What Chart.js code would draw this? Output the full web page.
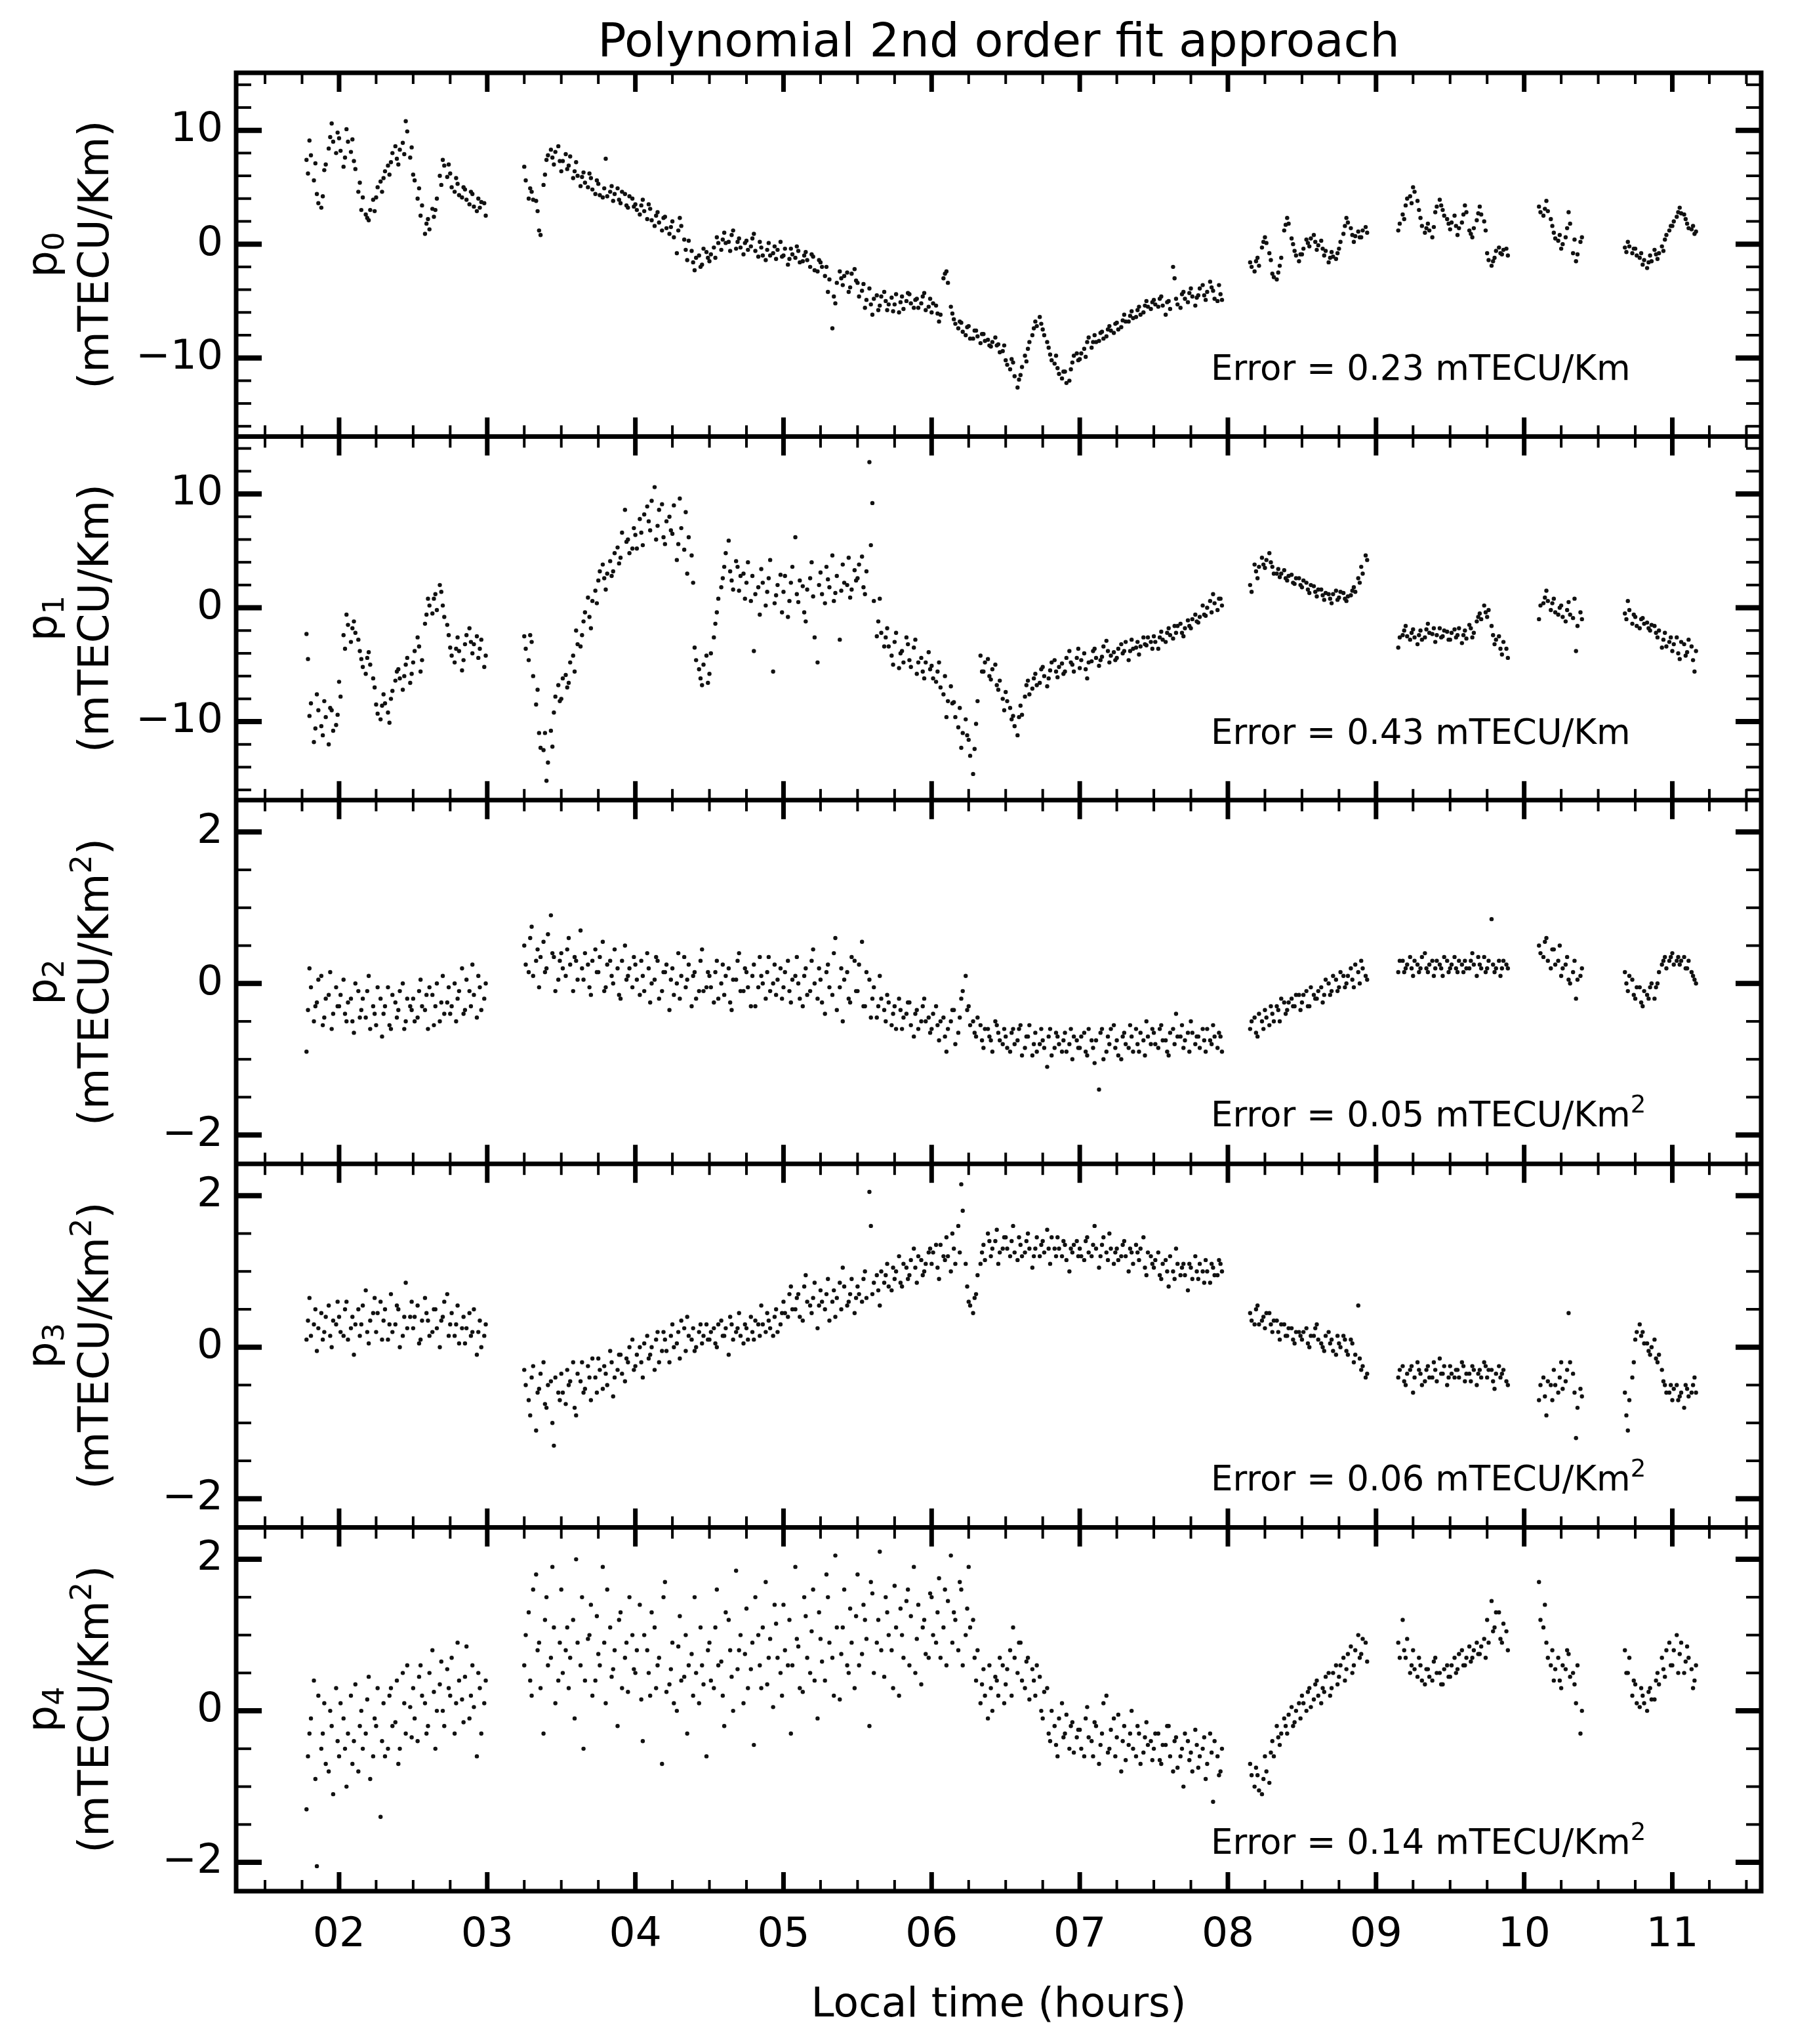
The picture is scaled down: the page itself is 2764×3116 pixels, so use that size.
<!DOCTYPE html>
<html>
<head>
<meta charset="utf-8">
<script src="https://cdn.jsdelivr.net/npm/chart.js@4.4.1/dist/chart.umd.min.js"></script>
<style>
  html, body { margin: 0; padding: 0; background: #fff; }
  #chart { display: block; width: 2764px; height: 3116px; }
</style>
</head>
<body>
<canvas id="chart" width="2764" height="3116"></canvas>
<script>
// local time of each epoch (hours): first pass, then second pass
const times = [
  1.78,1.80,1.83,1.85,1.88,1.90,1.93,1.95,1.98,
  2.00,2.03,2.05,2.08,2.10,2.13,2.15,2.18,2.20,2.23,2.25,2.28,2.30,2.33,2.35,2.38,2.40,2.43,2.45,2.48,
  2.50,2.53,2.55,2.58,2.60,2.63,2.65,2.68,2.70,2.73,2.75,2.78,2.80,2.83,2.85,2.88,2.90,2.93,2.95,2.98,
  3.25,3.28,3.30,3.33,3.35,3.38,3.40,3.43,3.45,3.48,
  3.50,3.53,3.55,3.58,3.60,3.63,3.65,3.68,3.70,3.73,3.75,3.78,3.80,3.83,3.85,3.88,3.90,3.93,3.95,3.98,
  4.00,4.03,4.05,4.08,4.10,4.13,4.15,4.18,4.20,4.23,4.25,4.28,4.30,4.33,4.35,4.38,4.40,4.43,4.45,4.48,
  4.50,4.53,4.55,4.58,4.60,4.63,4.65,4.68,4.70,4.73,4.75,4.78,4.80,4.83,4.85,4.88,4.90,4.93,4.95,4.98,
  5.00,5.03,5.05,5.08,5.10,5.13,5.15,5.18,5.20,5.23,5.25,5.28,5.30,5.33,5.35,5.38,5.40,5.43,5.45,5.48,
  5.50,5.53,5.55,5.58,5.60,5.63,5.65,5.68,5.70,5.73,5.75,5.78,5.80,5.83,5.85,5.88,5.90,5.93,5.95,5.98,
  6.00,6.03,6.05,6.08,6.10,6.13,6.15,6.18,6.20,6.23,6.25,6.28,6.30,6.33,6.35,6.38,6.40,6.43,6.45,6.48,
  6.50,6.53,6.55,6.58,6.60,6.63,6.65,6.68,6.70,6.73,6.75,6.78,6.80,6.83,6.85,6.88,6.90,6.93,6.95,6.98,
  7.00,7.03,7.05,7.08,7.10,7.13,7.15,7.18,7.20,7.23,7.25,7.28,7.30,7.33,7.35,7.38,7.40,7.43,7.45,7.48,
  7.50,7.53,7.55,7.58,7.60,7.63,7.65,7.68,7.70,7.73,7.75,7.78,7.80,7.83,7.85,7.88,7.90,7.93,7.95,
  8.15,8.18,8.20,8.23,8.25,8.28,8.30,8.33,8.35,8.38,8.40,8.43,8.45,8.48,
  8.50,8.53,8.55,8.58,8.60,8.63,8.65,8.68,8.70,8.73,8.75,8.78,8.80,8.83,8.85,8.88,8.90,8.93,
  9.15,9.18,9.20,9.23,9.25,9.28,9.30,9.33,9.35,9.38,9.40,9.43,9.45,9.48,
  9.50,9.53,9.55,9.58,9.60,9.63,9.65,9.68,9.70,9.73,9.75,9.78,9.80,9.83,9.85,9.88,
  10.10,10.13,10.15,10.18,10.20,10.23,10.25,10.28,10.30,10.33,10.35,10.38,
  10.68,10.70,10.73,10.75,10.78,10.80,10.83,10.85,10.88,10.90,10.93,10.95,10.98,
  11.00,11.03,11.05,11.08,11.10,11.13,11.15,
  // second pass
  1.79,1.81,1.84,1.86,1.89,1.91,1.94,1.96,1.99,
  2.01,2.04,2.06,2.09,2.11,2.14,2.16,2.19,2.21,2.24,2.26,2.29,2.31,2.34,2.36,2.39,2.41,2.44,2.46,2.49,
  2.51,2.54,2.56,2.59,2.61,2.64,2.66,2.69,2.71,2.74,2.76,2.79,2.81,2.84,2.86,2.89,2.91,2.94,2.96,2.99,
  3.26,3.29,3.31,3.34,3.36,3.39,3.41,3.44,3.46,3.49,
  3.51,3.54,3.56,3.59,3.61,3.64,3.66,3.69,3.71,3.74,3.76,3.79,3.81,3.84,3.86,3.89,3.91,3.94,3.96,3.99,
  4.01,4.04,4.06,4.09,4.11,4.14,4.16,4.19,4.21,4.24,4.26,4.29,4.31,4.34,4.36,4.39,4.41,4.44,4.46,4.49,
  4.51,4.54,4.56,4.59,4.61,4.64,4.66,4.69,4.71,4.74,4.76,4.79,4.81,4.84,4.86,4.89,4.91,4.94,4.96,4.99,
  5.01,5.04,5.06,5.09,5.11,5.14,5.16,5.19,5.21,5.24,5.26,5.29,5.31,5.34,5.36,5.39,5.41,5.44,5.46,5.49,
  5.51,5.54,5.56,5.59,5.61,5.64,5.66,5.69,5.71,5.74,5.76,5.79,5.81,5.84,5.86,5.89,5.91,5.94,5.96,5.99,
  6.01,6.04,6.06,6.09,6.11,6.14,6.16,6.19,6.21,6.24,6.26,6.29,6.31,6.34,6.36,6.39,6.41,6.44,6.46,6.49,
  6.51,6.54,6.56,6.59,6.61,6.64,6.66,6.69,6.71,6.74,6.76,6.79,6.81,6.84,6.86,6.89,6.91,6.94,6.96,6.99,
  7.01,7.04,7.06,7.09,7.11,7.14,7.16,7.19,7.21,7.24,7.26,7.29,7.31,7.34,7.36,7.39,7.41,7.44,7.46,7.49,
  7.51,7.54,7.56,7.59,7.61,7.64,7.66,7.69,7.71,7.74,7.76,7.79,7.81,7.84,7.86,7.89,7.91,7.94,7.96,
  8.16,8.19,8.21,8.24,8.26,8.29,8.31,8.34,8.36,8.39,8.41,8.44,8.46,8.49,
  8.51,8.54,8.56,8.59,8.61,8.64,8.66,8.69,8.71,8.74,8.76,8.79,8.81,8.84,8.86,8.89,8.91,8.94,
  9.16,9.19,9.21,9.24,9.26,9.29,9.31,9.34,9.36,9.39,9.41,9.44,9.46,9.49,
  9.51,9.54,9.56,9.59,9.61,9.64,9.66,9.69,9.71,9.74,9.76,9.79,9.81,9.84,9.86,9.89,
  10.11,10.14,10.16,10.19,10.21,10.24,10.26,10.29,10.31,10.34,10.36,10.39,
  10.69,10.71,10.74,10.76,10.79,10.81,10.84,10.86,10.89,10.91,10.94,10.96,10.99,
  11.01,11.04,11.06,11.09,11.11,11.14,11.16
];

const p0 = [
  7.4,9.1,5.6,4.4,3.2,6.5,8.4,10.6,8.0,
  9.3,6.8,10.1,8.1,7.3,4.6,3.0,2.6,2.1,3.9,4.1,5.5,5.8,6.9,7.2,8.6,7.0,8.9,10.8,7.6,
  6.1,4.0,2.5,0.9,2.2,3.1,3.0,6.0,7.4,5.9,6.2,4.6,5.3,4.1,4.8,3.5,4.4,2.9,3.2,3.6,
  6.8,4.0,4.6,3.8,1.2,5.2,7.4,8.3,7.0,8.6,
  6.4,7.9,6.9,5.8,7.2,5.1,6.3,5.0,5.8,4.4,5.3,4.1,7.5,4.6,3.8,4.9,3.6,4.4,3.2,4.0,
  3.5,2.6,3.9,2.2,3.1,1.6,2.8,1.2,2.4,0.9,2.0,-0.8,2.3,0.4,-1.4,-0.6,-2.3,-1.0,-1.8,-0.7,
  -1.5,-0.3,0.6,-0.5,1.0,0.2,0.8,-0.4,0.5,-0.9,0.3,-0.2,0.9,-1.1,-0.3,-1.4,0.1,-0.8,-1.3,0.2,
  -1.0,-1.8,-0.4,-1.2,-0.6,-1.5,-0.7,-2.0,-1.1,-2.4,-1.6,-2.8,-4.2,-7.4,-5.2,-2.4,-3.6,-2.5,-3.8,-2.2,
  -3.4,-4.1,-5.6,-3.9,-6.2,-4.5,-5.4,-4.2,-5.8,-4.7,-5.3,-6.0,-4.6,-5.0,-4.4,-5.6,-4.8,-5.2,-4.3,-5.5,
  -6.0,-5.4,-6.8,-3.0,-2.4,-5.5,-6.6,-7.4,-6.9,-8.0,-7.2,-8.3,-7.6,-8.7,-7.9,-8.4,-9.0,-8.2,-8.8,-9.4,
  -10.2,-11.0,-10.4,-12.6,-11.5,-9.8,-9.2,-8.0,-6.8,-6.4,-7.5,-8.6,-9.7,-10.5,-10.9,-11.8,-11.2,-12.0,-10.4,-9.6,
  -10.1,-9.2,-8.6,-9.1,-8.0,-8.5,-7.7,-8.1,-7.2,-7.8,-6.9,-7.3,-6.2,-6.8,-5.9,-6.4,-5.5,-6.0,-5.0,-5.7,
  -4.9,-5.5,-4.6,-6.2,-5.0,-2.0,-4.8,-5.6,-4.2,-5.1,-3.9,-5.4,-4.5,-3.6,-4.9,-3.3,-4.1,-5.0,-4.4,
  -1.6,-2.4,-1.2,-0.3,0.6,-0.8,-2.6,-3.1,-1.9,1.2,2.3,0.5,-0.6,-1.5,
  -0.9,0.4,-0.2,0.8,-0.5,0.3,-1.0,-1.6,-0.7,-1.3,-0.4,0.9,2.3,1.4,0.2,1.1,0.6,1.5,
  1.2,2.6,3.4,4.2,5.0,3.8,2.3,1.0,1.8,0.6,2.8,3.9,3.0,2.2,
  1.3,2.5,0.8,1.9,3.4,1.2,0.6,2.1,3.3,2.0,-0.8,-1.9,-1.2,-0.3,-0.9,-0.4,
  3.3,2.5,3.8,2.2,1.0,0.3,-0.4,0.6,2.8,-0.8,-1.5,0.2,
  -0.3,0.2,-0.8,-0.4,-1.2,-1.8,-2.1,-1.0,-0.5,-1.3,-0.2,0.4,1.2,
  1.6,2.4,3.2,2.6,1.8,1.3,0.9,
  // second pass
  6.2,7.8,7.1,3.6,4.2,7.0,9.4,9.0,9.8,
  8.2,7.6,9.0,9.2,6.6,5.4,4.1,2.3,3.0,2.9,5.0,4.6,6.4,6.1,8.0,7.5,8.3,7.9,9.9,8.5,
  5.6,4.9,3.4,1.8,1.3,2.4,4.0,5.2,6.9,7.0,5.0,5.8,4.3,5.0,3.9,4.6,3.3,4.0,3.7,2.5,
  5.6,4.9,3.9,2.9,0.8,6.1,7.8,7.6,8.1,7.3,
  7.3,6.6,7.7,6.4,6.0,5.9,5.4,6.2,4.8,5.6,4.3,4.9,4.2,5.1,4.4,3.9,4.6,3.4,4.2,3.3,
  3.0,3.4,2.9,3.5,2.1,2.5,1.9,2.3,1.4,1.5,0.6,1.2,1.6,-0.5,0.3,-1.6,-1.2,-2.0,-0.4,-1.2,
  -0.9,-1.2,0.1,0.4,0.1,-0.6,1.2,0.2,-0.3,0.1,-0.5,0.5,-0.6,0.2,-1.0,-0.5,-1.0,-0.2,-0.5,-1.1,
  -0.4,-1.3,-0.9,-0.2,-1.6,-1.0,-1.4,-0.9,-2.3,-1.4,-2.0,-2.0,-3.1,-4.6,-3.4,-3.0,-2.8,-4.2,-2.6,-3.2,
  -4.6,-3.5,-4.9,-5.3,-4.8,-5.8,-4.6,-5.0,-5.3,-5.9,-4.4,-5.1,-5.7,-4.3,-5.2,-4.9,-5.6,-4.6,-5.8,-4.8,
  -5.2,-6.1,-6.2,-2.6,-3.4,-6.1,-7.0,-6.8,-7.7,-7.3,-8.3,-7.6,-8.1,-7.9,-8.5,-8.9,-8.6,-8.9,-9.5,-8.9,
  -10.6,-10.1,-11.6,-11.9,-10.8,-10.3,-8.6,-7.4,-7.2,-7.0,-8.0,-9.1,-10.2,-9.8,-11.4,-11.2,-12.2,-11.0,-9.8,-10.2,
  -9.6,-9.9,-8.2,-8.6,-8.6,-7.8,-8.3,-7.5,-7.6,-7.0,-7.5,-6.7,-6.8,-6.3,-6.5,-5.8,-6.2,-5.4,-5.5,-5.1,
  -5.3,-4.8,-5.4,-5.1,-5.7,-3.0,-5.3,-4.4,-4.8,-4.3,-4.6,-4.7,-3.9,-4.5,-4.2,-3.8,-4.8,-3.6,-4.9,
  -2.0,-1.5,-1.9,0.2,0.1,-1.4,-2.9,-2.5,-1.2,1.7,1.8,0.0,-1.0,-0.9,
  -0.4,0.1,0.5,0.2,-0.1,-0.4,-0.6,-1.2,-1.1,-0.8,0.2,1.6,1.9,0.8,0.7,0.6,1.2,1.0,
  1.8,2.2,4.0,3.6,4.6,3.0,1.6,1.4,1.2,1.5,3.3,3.4,2.5,1.8,
  1.9,1.6,1.4,2.6,2.8,0.9,1.4,2.7,2.6,1.2,-1.4,-1.5,-0.6,-0.8,-0.5,-1.0,
  2.8,3.1,2.9,1.6,0.5,0.8,0.0,1.4,1.8,0.4,-0.9,0.6,
  -0.7,-0.2,-0.4,-1.0,-0.8,-1.4,-1.6,-1.5,-0.9,-0.8,-0.6,0.8,1.6,
  2.0,2.8,2.7,2.2,1.4,1.6,1.1
];

const p1 = [
  -2.3,-9.5,-11.8,-7.6,-10.4,-8.2,-12.0,-9.0,-10.3,
  -6.5,-2.4,-0.6,-3.0,-1.2,-2.8,-4.5,-5.8,-3.9,-6.2,-8.5,-9.8,-7.6,-9.2,-8.0,-6.4,-5.4,-7.2,-5.0,-6.6,
  -4.8,-2.6,-5.6,-1.4,0.8,-0.5,1.2,2.0,0.2,-1.5,-3.5,-4.8,-2.6,-5.5,-3.2,-1.8,-4.0,-2.5,-3.6,-5.2,
  -2.5,-4.6,-3.0,-8.5,-11.0,-12.5,-15.2,-10.8,-9.2,-6.8,
  -8.0,-5.9,-6.6,-4.2,-2.0,-3.4,-1.2,0.9,-1.8,1.5,2.4,3.8,1.6,4.1,3.2,5.3,4.4,8.6,6.0,5.2,
  6.4,7.8,5.5,8.9,6.8,10.6,7.2,9.1,5.6,8.0,6.5,4.2,9.6,5.1,3.0,4.6,-3.5,-5.4,-6.8,-4.2,
  -5.8,-2.6,-0.4,1.8,3.6,5.9,2.4,4.1,1.5,3.0,2.2,0.6,-3.8,1.8,3.4,0.2,2.6,-5.6,1.1,2.9,
  1.4,-0.8,2.2,6.2,0.5,1.9,-1.2,2.6,1.0,-4.8,3.1,0.4,2.5,4.6,1.3,-2.8,3.8,2.0,0.9,3.3,
  2.6,4.5,1.2,12.8,9.2,-2.5,0.8,-3.4,-1.8,-4.2,-3.0,-5.3,-3.8,-2.6,-4.6,-3.5,-5.8,-4.4,-6.2,-3.9,
  -5.1,-6.5,-4.8,-7.6,-9.6,-6.9,-8.3,-10.5,-12.3,-9.8,-11.6,-14.6,-10.2,-4.2,-5.6,-4.5,-6.3,-5.0,-7.2,-8.0,
  -7.4,-8.8,-9.5,-11.2,-8.6,-7.8,-6.4,-7.1,-5.8,-6.6,-5.2,-6.9,-5.5,-4.6,-6.1,-4.9,-5.6,-3.8,-5.0,-4.4,
  -5.3,-4.0,-6.2,-4.7,-3.6,-5.1,-4.3,-2.9,-4.8,-3.9,-4.4,-3.2,-3.8,-4.6,-2.8,-3.5,-4.1,-2.6,-3.3,-3.0,
  -2.5,-3.6,-2.1,-3.0,-1.8,-2.7,-2.2,-1.4,-2.5,-1.1,-1.8,-0.6,-1.3,0.2,-0.7,0.6,1.2,-0.2,0.8,
  2.0,3.8,2.6,4.4,3.5,4.8,3.6,3.0,2.7,3.3,2.4,2.9,2.1,2.6,
  1.8,2.2,1.3,1.9,1.0,1.6,0.7,1.2,0.4,1.5,0.9,1.3,0.6,1.1,1.8,2.6,3.6,4.6,
  -3.5,-2.4,-1.6,-2.8,-1.9,-3.2,-2.0,-2.6,-1.4,-2.3,-3.0,-1.8,-2.5,-2.1,
  -2.8,-1.9,-2.4,-3.1,-2.0,-1.5,-2.6,-1.2,-0.5,0.2,-0.8,-1.6,-3.2,-2.5,-4.1,-3.6,
  -1.0,0.4,1.5,-0.2,0.8,-0.6,0.2,-1.2,0.5,-0.9,-3.8,-0.4,
  -0.5,0.6,-1.4,-0.8,-1.8,-0.9,-1.3,-2.0,-1.6,-2.6,-3.5,-2.2,-3.0,
  -3.8,-2.6,-4.5,-3.2,-3.9,-3.4,-5.6,
  // second pass
  -4.5,-8.4,-10.6,-9.0,-11.2,-9.6,-8.8,-10.8,-9.4,
  -7.8,-3.6,-1.5,-1.8,-2.2,-3.8,-5.2,-4.4,-5.0,-7.0,-9.3,-8.6,-8.4,-10.1,-7.3,-5.6,-6.2,-6.0,-4.4,-5.8,
  -3.8,-3.4,-4.6,-0.6,0.2,0.8,-0.2,1.4,-0.8,-2.4,-4.2,-3.6,-3.8,-4.6,-2.4,-3.0,-3.2,-4.4,-2.8,-4.2,
  -3.6,-2.4,-6.0,-7.2,-12.3,-11.0,-13.6,-12.2,-7.8,-8.2,
  -6.2,-7.0,-4.8,-5.6,-3.2,-2.4,-0.4,-0.8,0.6,0.4,3.2,2.6,3.0,2.8,4.8,3.9,6.6,5.8,4.8,7.0,
  5.2,6.6,8.2,7.6,9.4,6.0,8.6,6.2,7.6,6.8,9.0,5.6,7.0,8.4,6.2,2.2,-4.6,-6.2,-5.0,-6.6,
  -4.0,-1.4,0.8,2.6,4.8,3.2,1.6,3.6,2.8,0.8,4.0,2.8,1.2,-0.6,2.2,1.4,4.2,0.4,2.0,-0.4,
  2.8,0.6,3.6,1.2,2.4,-0.4,1.6,4.0,-2.6,2.0,1.2,3.6,1.8,0.6,2.8,1.5,2.2,4.4,1.6,2.4,
  3.8,1.8,3.2,5.5,0.6,-1.2,-2.2,-2.6,-3.4,-5.0,-2.2,-4.0,-4.8,-3.2,-5.2,-2.8,-4.8,-5.6,-4.8,-5.4,
  -6.2,-5.6,-7.0,-6.0,-8.2,-8.4,-9.6,-8.8,-11.0,-11.2,-13.0,-12.4,-8.2,-5.6,-4.8,-6.0,-5.4,-6.8,-6.4,-9.0,
  -8.2,-9.8,-10.4,-9.6,-9.4,-6.8,-7.6,-6.2,-6.8,-5.4,-6.0,-6.2,-4.8,-5.6,-5.2,-5.8,-4.4,-4.8,-5.6,-3.6,
  -4.6,-5.4,-4.8,-3.8,-4.4,-4.6,-3.4,-3.8,-4.2,-4.6,-3.6,-4.0,-3.0,-3.8,-3.6,-3.0,-3.4,-3.2,-2.6,-3.6,
  -3.0,-2.6,-2.8,-2.2,-2.4,-1.6,-1.6,-2.2,-1.8,-1.6,-1.0,-1.2,-0.8,-0.6,0.0,-0.4,0.4,0.8,0.2,
  1.4,3.2,3.6,3.8,4.2,4.0,3.0,3.4,3.0,2.6,2.8,2.2,2.6,2.0,
  2.4,1.6,2.0,1.4,1.6,1.1,1.3,0.8,1.2,0.7,1.4,0.8,1.0,1.5,1.4,2.2,3.0,4.2,
  -2.6,-2.0,-2.5,-2.2,-2.6,-2.4,-2.8,-1.9,-2.2,-1.8,-2.4,-2.6,-2.0,-2.8,
  -2.2,-2.6,-1.8,-2.4,-2.7,-1.8,-2.2,-0.8,-1.0,-0.4,-0.2,-2.4,-2.8,-3.6,-3.0,-4.4,
  0.2,0.9,0.6,0.4,-0.4,0.0,-0.8,-0.2,-0.6,0.8,-1.6,-1.0,
  -1.0,-0.2,-0.6,-1.6,-1.0,-1.4,-1.8,-1.5,-2.2,-2.0,-2.8,-3.4,-2.6,
  -3.2,-4.0,-3.0,-4.2,-2.8,-4.6,-3.8
];

const p2 = [
  -0.9,0.2,-0.5,-0.25,0.1,-0.45,-0.15,-0.6,-0.05,
  -0.3,0.05,-0.5,-0.2,-0.65,-0.1,-0.35,-0.45,0.1,-0.3,-0.55,-0.2,-0.4,-0.05,-0.6,-0.25,-0.35,0.0,-0.5,-0.3,
  -0.2,-0.45,0.05,-0.35,-0.6,-0.15,-0.3,-0.5,0.1,-0.25,-0.4,0.0,-0.2,0.2,-0.35,-0.1,0.25,-0.45,-0.05,-0.2,
  0.5,0.15,0.75,0.3,-0.05,0.55,0.2,0.9,0.35,0.05,
  0.4,0.1,0.6,-0.1,0.3,0.7,0.05,0.25,-0.15,0.45,0.15,0.55,-0.05,0.3,0.0,0.2,-0.2,0.5,0.1,-0.05,
  0.25,-0.15,0.1,0.4,-0.25,0.05,0.3,-0.1,0.15,-0.35,0.2,0.0,-0.2,0.35,0.05,-0.3,0.15,-0.1,0.45,-0.05,
  0.1,-0.25,0.3,0.0,-0.15,0.2,-0.35,0.05,0.4,-0.1,0.15,-0.3,0.25,-0.05,0.1,-0.2,0.35,0.0,-0.15,0.2,
  -0.05,0.3,-0.25,0.1,0.0,-0.3,0.2,-0.1,0.45,-0.2,0.05,-0.4,0.25,-0.15,0.6,-0.05,-0.5,0.15,-0.25,0.3,
  -0.1,0.55,-0.3,0.05,-0.2,-0.45,0.1,-0.35,-0.15,-0.55,-0.3,-0.2,-0.6,-0.4,-0.25,-0.7,-0.35,-0.5,-0.2,-0.45,
  -0.6,-0.3,-0.75,-0.45,-0.9,-0.5,-0.35,-0.65,-0.2,0.1,-0.3,-0.5,-0.7,-0.55,-0.85,-0.6,-0.75,-0.5,-0.65,-0.8,
  -0.7,-0.9,-0.6,-0.75,-0.55,-0.85,-0.7,-0.95,-0.65,-0.8,-0.75,-1.1,-0.6,-0.85,-0.7,-0.9,-0.65,-0.8,-1.0,-0.75,
  -0.85,-0.65,-0.95,-0.75,-1.05,-1.4,-0.6,-0.9,-0.8,-0.55,-0.75,-1.0,-0.65,-0.85,-0.7,-0.6,-0.9,-0.75,-0.5,-0.8,
  -0.65,-0.85,-0.55,-0.75,-0.95,-0.6,-0.4,-0.7,-0.85,-0.65,-0.5,-0.8,-0.7,-0.6,-0.9,-0.75,-0.55,-0.85,-0.7,
  -0.6,-0.45,-0.7,-0.5,-0.35,-0.55,-0.4,-0.3,-0.5,-0.25,-0.35,-0.2,-0.3,-0.15,
  -0.25,-0.1,-0.3,-0.15,-0.2,-0.05,-0.15,0.0,-0.1,0.05,-0.05,0.1,0.0,0.2,-0.05,0.15,0.3,0.1,
  0.15,0.3,0.2,0.35,0.1,0.25,0.2,0.4,0.15,0.3,0.2,0.25,0.1,0.3,
  0.2,0.35,0.15,0.25,0.3,0.2,0.4,0.1,0.25,0.35,0.2,0.85,0.15,0.3,0.2,0.25,
  0.5,0.35,0.6,0.2,0.45,0.3,0.1,0.25,0.05,0.15,-0.2,0.1,
  0.15,-0.1,0.05,-0.2,-0.05,-0.3,-0.15,-0.05,-0.2,0.0,0.25,0.35,0.3,
  0.4,0.3,0.25,0.35,0.2,0.15,0.05,
  // second pass
  -0.35,-0.05,-0.3,0.05,-0.55,-0.2,0.15,-0.4,-0.3,
  -0.15,-0.4,-0.25,-0.5,0.0,-0.45,-0.2,-0.1,-0.6,-0.4,-0.05,-0.7,-0.3,-0.55,-0.15,-0.45,-0.1,-0.6,-0.2,-0.35,
  -0.5,-0.1,-0.3,-0.15,-0.05,-0.55,0.0,-0.25,-0.4,-0.05,-0.3,-0.5,-0.1,-0.4,0.05,-0.3,-0.15,0.1,-0.35,0.0,
  0.25,0.6,0.1,0.45,0.35,0.15,0.65,0.4,-0.1,0.3,
  0.2,0.45,0.25,0.35,0.05,0.2,0.4,-0.05,0.3,0.15,0.35,-0.1,0.25,0.1,0.45,-0.15,0.3,0.05,0.2,0.35,
  0.05,0.3,-0.1,0.2,0.0,0.35,-0.2,0.15,0.25,0.05,-0.15,0.4,0.1,-0.05,0.25,0.1,-0.2,0.3,-0.1,0.15,
  -0.05,0.15,-0.2,0.25,0.1,-0.25,0.05,0.3,-0.1,0.2,-0.05,0.1,-0.3,0.35,0.0,0.15,-0.1,0.25,0.05,-0.2,
  0.15,-0.1,0.05,0.35,-0.2,0.1,-0.15,0.3,0.0,0.2,-0.25,0.15,-0.05,0.4,-0.35,0.2,0.05,-0.2,0.35,-0.1,
  0.25,-0.3,0.15,-0.45,-0.05,-0.3,-0.2,-0.5,-0.25,-0.4,-0.6,-0.35,-0.45,-0.25,-0.55,-0.4,-0.6,-0.3,-0.5,-0.65,
  -0.4,-0.55,-0.5,-0.7,-0.6,-0.35,-0.8,-0.45,-0.1,-0.35,-0.55,-0.65,-0.45,-0.75,-0.6,-0.7,-0.9,-0.55,-0.75,-0.6,
  -0.85,-0.65,-0.8,-0.6,-0.95,-0.7,-0.55,-0.8,-0.9,-0.6,-0.85,-0.7,-0.95,-0.65,-0.8,-0.75,-0.9,-0.6,-0.7,-0.85,
  -0.7,-0.9,-0.6,-0.85,-0.75,-0.65,-1.0,-0.7,-0.6,-0.85,-0.95,-0.7,-0.8,-0.55,-0.9,-0.8,-0.65,-0.95,-0.7,-0.6,
  -0.8,-0.6,-0.75,-0.9,-0.65,-0.8,-0.7,-0.55,-0.75,-0.9,-0.65,-0.7,-0.85,-0.75,-0.6,-0.8,-0.7,-0.65,-0.9,
  -0.5,-0.65,-0.4,-0.6,-0.45,-0.3,-0.5,-0.35,-0.2,-0.4,-0.25,-0.3,-0.15,-0.35,
  -0.15,-0.3,-0.05,-0.2,-0.1,-0.25,0.05,-0.15,0.1,-0.1,0.15,-0.05,0.1,0.05,0.25,0.0,0.2,0.05,
  0.3,0.15,0.25,0.2,0.3,0.15,0.35,0.2,0.25,0.1,0.3,0.2,0.35,0.15,
  0.25,0.2,0.3,0.15,0.2,0.3,0.25,0.35,0.2,0.15,0.3,0.25,0.2,0.1,0.3,0.2,
  0.4,0.55,0.3,0.45,0.25,0.5,0.2,0.35,0.0,0.3,0.05,0.2,
  0.0,0.1,-0.15,-0.05,-0.25,-0.1,-0.2,0.0,-0.05,0.15,0.3,0.2,0.35,
  0.25,0.35,0.3,0.2,0.3,0.1,0.0
];

const p3 = [
  0.1,0.65,0.3,-0.05,0.45,0.2,0.55,0.0,0.3,
  0.4,0.15,0.6,0.25,-0.1,0.5,0.3,0.75,0.05,0.45,0.2,0.6,0.35,0.1,0.7,0.3,0.5,0.15,0.85,0.4,
  0.25,0.55,0.1,0.65,0.35,0.2,0.5,0.0,0.4,0.7,0.3,0.15,0.55,0.25,0.05,0.45,0.2,-0.1,0.35,0.15,
  -0.3,-0.7,-0.4,-1.1,-0.55,-0.2,-0.8,-0.45,-1.3,-0.6,
  -0.35,-0.75,-0.5,-0.2,-0.9,-0.45,-0.6,-0.25,-0.7,-0.4,-0.15,-0.55,-0.35,-0.05,-0.65,-0.3,-0.1,-0.45,-0.2,0.1,
  -0.25,0.0,-0.4,0.15,-0.1,-0.3,0.2,-0.05,0.1,-0.2,0.3,0.05,-0.15,0.25,0.4,0.1,-0.05,0.2,0.05,0.3,
  0.1,0.25,0.0,0.35,0.15,-0.1,0.3,0.2,0.45,0.05,0.25,0.4,0.1,0.3,0.55,0.2,0.35,0.15,0.5,0.3,
  0.6,0.4,0.8,0.5,0.7,0.35,0.95,0.55,0.65,0.25,0.75,0.5,0.9,0.6,0.4,0.85,1.05,0.55,0.7,0.45,
  0.8,0.6,1.0,2.05,0.7,0.95,0.55,0.85,1.1,0.75,0.9,1.2,0.8,1.05,0.95,1.3,0.85,1.15,1.0,1.25,
  1.1,1.35,0.9,1.2,1.45,1.0,1.3,1.6,2.15,1.1,0.6,0.45,0.7,1.1,1.35,1.5,1.2,1.4,1.1,1.3,
  1.45,1.2,1.6,1.15,1.35,1.25,1.5,1.05,1.3,1.2,1.4,1.55,1.1,1.3,1.45,1.2,1.35,1.0,1.25,1.4,
  1.3,1.15,1.45,1.2,1.6,1.05,1.35,1.25,1.5,1.1,1.3,1.2,1.4,1.0,1.25,1.35,1.15,1.45,0.95,1.2,
  1.05,1.25,0.9,1.15,0.8,1.0,1.3,0.95,1.1,0.75,1.05,1.2,0.9,1.0,1.15,0.85,1.05,0.95,1.1,
  0.45,0.3,0.55,0.35,0.25,0.45,0.2,0.35,0.1,0.3,0.15,0.25,0.05,0.2,
  0.1,0.25,0.0,0.15,0.3,0.05,-0.05,0.2,0.1,-0.1,0.05,0.15,-0.05,0.1,-0.2,0.55,-0.3,-0.4,
  -0.4,-0.25,-0.5,-0.3,-0.6,-0.2,-0.35,-0.45,-0.25,-0.4,-0.3,-0.15,-0.35,-0.5,
  -0.25,-0.4,-0.3,-0.2,-0.45,-0.35,-0.25,-0.5,-0.3,-0.2,-0.4,-0.3,-0.55,-0.25,-0.35,-0.45,
  -0.7,-0.4,-0.9,-0.5,-0.3,-0.6,-0.2,-0.45,0.45,-0.35,-1.2,-0.55,
  -0.6,-1.1,-0.4,0.1,0.3,0.2,0.05,-0.1,0.1,-0.2,-0.3,-0.5,-0.6,
  -0.7,-0.5,-0.65,-0.8,-0.55,-0.6,-0.4,
  // second pass
  0.35,0.15,0.5,0.25,0.1,0.4,0.15,0.35,0.6,
  0.2,0.5,0.1,0.4,0.3,0.15,0.55,0.2,0.35,0.65,0.45,0.1,0.5,0.3,0.2,0.55,0.0,0.4,0.25,0.6,
  0.4,0.05,0.35,0.45,0.15,0.5,0.25,0.35,0.6,0.15,0.45,0.3,0.05,0.4,0.25,0.15,0.5,0.2,0.0,0.3,
  -0.5,-0.9,-0.25,-0.6,-0.35,-0.75,-0.5,-1.0,-0.4,-0.7,
  -0.6,-0.3,-0.45,-0.8,-0.35,-0.2,-0.55,-0.4,-0.15,-0.6,-0.3,-0.25,-0.5,-0.2,-0.4,-0.1,-0.35,-0.15,0.0,-0.3,
  -0.1,-0.2,0.05,-0.15,0.0,0.1,-0.2,0.2,-0.05,0.15,0.0,0.2,0.35,-0.05,0.15,0.25,0.0,0.3,0.15,0.1,
  0.2,0.05,0.3,0.15,0.25,0.4,0.1,0.25,0.15,0.3,0.1,0.2,0.35,0.15,0.3,0.45,0.25,0.4,0.2,0.45,
  0.45,0.7,0.5,0.65,0.4,0.8,0.6,0.45,0.85,0.55,0.6,0.7,0.35,0.75,0.65,0.5,0.8,0.6,0.9,0.65,
  0.7,0.9,0.65,1.6,0.85,0.75,1.0,0.95,0.8,1.05,1.0,0.85,1.1,0.9,1.15,1.05,1.2,0.95,1.1,1.3,
  1.25,1.05,1.35,1.15,1.2,1.5,1.1,1.25,1.8,0.8,0.55,0.65,0.95,1.25,1.15,1.4,1.3,1.55,1.25,1.45,
  1.3,1.4,1.25,1.45,1.2,1.4,1.3,1.2,1.45,1.35,1.25,1.3,1.45,1.2,1.3,1.4,1.15,1.3,1.35,1.2,
  1.2,1.4,1.25,1.35,1.3,1.2,1.45,1.15,1.3,1.25,1.15,1.35,1.2,1.3,1.1,1.25,1.3,1.05,1.25,1.1,
  1.15,0.95,1.1,1.0,1.2,0.9,1.1,1.05,0.95,1.1,0.9,1.0,1.1,0.85,1.0,1.1,0.95,1.15,1.0,
  0.35,0.5,0.3,0.4,0.45,0.3,0.35,0.2,0.3,0.15,0.25,0.1,0.2,0.15,
  0.2,0.05,0.15,0.25,0.1,0.0,0.15,0.05,-0.05,0.15,0.0,0.1,-0.1,0.05,-0.1,-0.15,-0.25,-0.35,
  -0.3,-0.45,-0.35,-0.25,-0.4,-0.3,-0.5,-0.3,-0.4,-0.2,-0.45,-0.35,-0.25,-0.4,
  -0.35,-0.3,-0.4,-0.25,-0.35,-0.45,-0.3,-0.35,-0.4,-0.25,-0.3,-0.45,-0.35,-0.4,-0.3,-0.5,
  -0.5,-0.65,-0.45,-0.7,-0.5,-0.4,-0.55,-0.3,-0.2,-0.6,-0.8,-0.65,
  -0.9,-0.7,-0.2,0.2,0.15,0.05,-0.05,0.0,-0.15,-0.1,-0.45,-0.6,-0.5,
  -0.55,-0.7,-0.6,-0.5,-0.65,-0.5,-0.6
];

const p4 = [
  -1.3,-0.3,0.4,-2.05,-0.5,0.1,-0.8,-0.2,0.3,
  -0.6,-0.1,-1.0,0.2,-0.4,-0.8,0.0,-0.3,0.45,-0.6,-0.2,-1.4,0.1,-0.5,0.3,-0.15,-0.7,0.5,-0.3,0.05,
  0.3,-0.4,0.6,0.1,-0.2,0.8,-0.5,0.35,0.0,0.55,0.2,-0.3,0.9,0.15,0.45,-0.1,0.6,-0.6,0.3,0.1,
  0.6,1.3,0.2,1.8,0.9,-0.3,1.5,0.7,1.1,0.4,
  1.6,0.8,0.3,1.2,2.0,0.6,-0.5,0.95,1.4,0.4,0.75,1.9,0.1,1.1,0.55,-0.2,1.3,0.7,0.25,1.0,
  0.5,1.4,-0.4,0.8,0.2,1.1,0.6,-0.7,1.7,0.35,0.9,0.0,1.25,0.45,-0.3,0.75,1.5,0.1,0.6,-0.6,
  0.9,0.3,1.6,0.65,-0.2,1.2,0.45,1.85,0.8,0.1,1.35,0.55,-0.45,1.0,0.3,1.7,0.7,0.05,1.15,0.5,
  1.4,0.6,-0.3,1.9,0.85,0.25,1.25,0.5,1.6,-0.1,0.95,0.4,1.5,0.7,2.05,0.15,1.1,0.6,1.35,0.3,
  1.8,0.75,1.2,-0.2,1.55,0.9,2.1,0.45,1.3,0.8,1.65,0.2,1.0,1.45,0.6,1.9,0.95,0.35,1.2,0.7,
  1.5,0.9,1.75,1.1,0.6,2.05,1.3,0.8,1.6,1.0,1.9,1.2,0.4,0.1,0.55,-0.1,0.3,0.45,0.2,0.6,
  0.35,0.8,1.1,0.5,0.9,0.3,0.7,0.55,0.2,0.45,-0.1,0.3,-0.4,-0.2,-0.6,0.1,-0.3,-0.5,-0.15,-0.35,
  -0.25,-0.6,0.05,-0.4,-0.15,-0.7,-0.3,0.2,-0.5,-0.1,-0.35,-0.8,-0.2,-0.45,0.0,-0.6,-0.3,-0.55,-0.15,-0.4,
  -0.5,-0.3,-0.7,-0.45,-0.2,-0.8,-0.35,-0.6,-1.0,-0.4,-0.55,-0.25,-0.75,-0.5,-0.9,-0.3,-1.2,-0.6,-0.8,
  -0.7,-1.0,-0.85,-1.1,-0.6,-0.95,-0.4,-0.2,-0.45,-0.1,-0.3,0.05,-0.15,0.1,
  0.2,0.0,0.3,0.15,0.4,0.1,0.25,0.5,0.3,0.6,0.45,0.7,0.55,0.85,0.6,1.0,0.75,0.9,
  0.9,1.2,0.7,0.5,0.8,0.45,0.6,0.35,0.55,0.4,0.7,0.5,0.35,0.6,
  0.45,0.7,0.55,0.8,0.6,0.85,0.7,0.9,0.75,0.95,1.2,1.45,1.1,1.3,0.9,1.05,
  1.7,1.1,0.9,0.6,0.4,0.7,0.3,0.55,0.75,0.5,0.1,-0.3,
  0.8,0.5,0.2,0.35,0.05,0.2,0.0,0.3,0.15,0.5,0.7,0.45,0.9,
  0.6,1.0,0.75,0.5,0.85,0.55,0.4,
  // second pass
  -0.6,-0.1,-0.9,0.2,-0.3,-0.7,0.0,-1.1,-0.4,
  0.1,-0.5,-0.3,-0.7,0.35,-0.2,-0.5,0.15,-0.9,-0.1,0.3,-0.4,-0.6,0.2,-0.2,0.4,-0.5,0.1,0.6,-0.35,
  -0.1,0.45,0.2,-0.3,0.5,0.25,0.0,0.65,-0.2,0.3,0.7,0.1,0.4,-0.15,0.85,0.2,0.05,0.5,-0.3,0.4,
  1.0,0.4,1.6,0.8,0.3,1.2,0.6,1.9,0.1,0.9,
  0.5,1.1,0.7,-0.1,0.9,1.5,0.4,1.0,0.2,1.25,0.6,0.9,1.6,0.45,0.8,1.2,0.3,0.9,1.5,0.55,
  0.8,0.15,1.0,0.5,1.3,0.3,0.7,1.5,0.25,0.55,0.1,0.85,0.4,1.0,0.6,0.2,0.5,1.1,0.35,0.8,
  0.4,1.1,0.6,0.2,1.3,0.8,0.0,0.55,1.0,0.75,0.3,0.9,1.5,0.6,1.1,0.35,0.95,1.4,0.7,0.2,
  0.8,1.2,0.6,0.95,0.3,1.5,0.7,1.05,0.4,1.3,0.65,1.8,0.9,0.2,1.1,0.75,1.6,0.5,0.9,1.25,
  0.6,1.4,0.95,1.7,0.5,1.2,0.8,1.5,1.0,0.3,1.1,1.35,0.7,1.6,1.25,0.5,1.4,1.1,0.75,1.55,
  1.0,1.3,0.7,1.6,1.45,0.9,1.2,1.7,0.6,1.35,1.1,0.7,0.8,0.35,0.2,0.6,0.0,0.4,0.7,0.1,
  0.55,0.2,0.7,0.9,0.4,0.65,0.15,0.4,0.6,0.0,0.25,-0.3,0.0,-0.45,-0.1,-0.35,-0.05,-0.2,-0.55,-0.25,
  -0.5,-0.1,-0.35,-0.6,-0.2,-0.45,0.1,-0.55,-0.25,-0.6,-0.05,-0.4,-0.65,-0.3,-0.5,-0.2,-0.7,-0.35,-0.45,-0.65,
  -0.3,-0.65,-0.45,-0.2,-0.6,-0.4,-0.75,-0.5,-0.3,-0.65,-0.8,-0.45,-0.6,-0.35,-0.7,-0.55,-0.4,-0.85,-0.5,
  -0.85,-0.75,-1.05,-0.9,-0.8,-0.55,-0.6,-0.35,-0.3,-0.2,-0.05,-0.2,0.0,-0.1,
  0.1,0.25,0.05,0.35,0.2,0.3,0.45,0.2,0.5,0.35,0.6,0.4,0.75,0.5,0.8,0.7,0.95,0.65,
  0.7,0.8,0.95,0.6,0.55,0.7,0.4,0.55,0.45,0.65,0.5,0.35,0.55,0.45,
  0.6,0.5,0.75,0.6,0.7,0.65,0.8,0.75,0.85,0.7,0.9,1.05,1.3,0.95,1.15,0.8,
  1.2,1.4,0.7,0.8,0.55,0.4,0.6,0.8,0.45,0.35,0.6,0.0,
  0.5,0.7,0.4,0.1,0.3,0.1,0.25,0.15,0.4,0.35,0.55,0.8,0.6,
  0.8,0.5,0.9,0.65,0.7,0.3,0.6
];

const series = [p0, p1, p2, p3, p4];
const panelLabels = ['0', '1', '2', '3', '4'];
const squaredUnit = [false, false, true, true, true];
const errorValues = ['0.23', '0.43', '0.05', '0.06', '0.14'];
const xTickHours = [2, 3, 4, 5, 6, 7, 8, 9, 10, 11];
const yMajorTicks = [[-10, 0, 10], [-10, 0, 10], [-2, 0, 2], [-2, 0, 2], [-2, 0, 2]];
const yLimits = [[-16.9, 15.05], [-16.9, 15.05], [-2.38, 2.42], [-2.38, 2.42], [-2.38, 2.42]];

series.forEach((s, k) => {
  if (s.length !== times.length) console.warn('p' + k + ' has ' + s.length + ' values, times has ' + times.length);
});

const FONT = '"DejaVu Sans", sans-serif';
const ids = series.map((s, k) => 'y' + k);

const fmtNum = v => (v < 0 ? '\u2212' + Math.abs(v) : String(v));

// text with sub/superscript pieces; rotated for the y labels
function drawPieces(ctx, pieces, cx, cy, angle, align) {
  ctx.save();
  ctx.translate(cx, cy);
  ctx.rotate(angle);
  ctx.textBaseline = 'alphabetic';
  ctx.textAlign = 'left';
  let total = 0;
  pieces.forEach(p => {
    ctx.font = p.size + 'px ' + FONT;
    p.w = ctx.measureText(p.text).width;
    total += p.w;
  });
  let x = align === 'center' ? -total / 2 : 0;
  pieces.forEach(p => {
    ctx.font = p.size + 'px ' + FONT;
    ctx.fillText(p.text, x, p.dy || 0);
    x += p.w;
  });
  ctx.restore();
}

function seg(ctx, x1, y1, x2, y2) {
  ctx.beginPath();
  ctx.moveTo(x1, y1);
  ctx.lineTo(x2, y2);
  ctx.stroke();
}

const framePlugin = {
  id: 'frames',
  afterDraw(chart) {
    const ctx = chart.ctx;
    const xs = chart.scales.x;
    const L = chart.chartArea.left, R = chart.chartArea.right;
    ctx.save();
    ctx.strokeStyle = '#000';
    ctx.fillStyle = '#000';
    ctx.lineCap = 'butt';

    ids.forEach((id, k) => {
      const ys = chart.scales[id];
      const T = ys.top, B = ys.bottom;

      // x ticks, inward on top and bottom edges
      for (let i = 0; i <= 40; i++) {
        const v = 1.5 + i * 0.25;
        const major = Number.isInteger(v);
        const px = xs.getPixelForValue(v);
        const len = major ? 29 : 17;
        ctx.lineWidth = major ? 7 : 4;
        seg(ctx, px, T, px, T + len);
        seg(ctx, px, B, px, B - len);
      }

      // y ticks, inward on left and right edges
      const majors = yMajorTicks[k];
      const step = k < 2 ? 2 : 0.5;
      const lo = Math.ceil(yLimits[k][0] / step) * step;
      for (let v = lo; v <= yLimits[k][1] + 1e-9; v += step) {
        const vv = Math.round(v * 100) / 100;
        const major = majors.includes(vv);
        const py = ys.getPixelForValue(vv);
        const len = major ? 39 : 23;
        ctx.lineWidth = major ? 8 : 4;
        seg(ctx, L, py, L + len, py);
        seg(ctx, R, py, R - len, py);
      }

      // y axis label
      const cy = (T + B) / 2;
      drawPieces(ctx, [
        { text: 'p', size: 64 },
        { text: panelLabels[k], size: 45, dy: 11 }
      ], 86, cy, -Math.PI / 2, 'center');
      const unitPieces = squaredUnit[k]
        ? [{ text: '(mTECU/Km', size: 64 }, { text: '2', size: 45, dy: -26 }, { text: ')', size: 64 }]
        : [{ text: '(mTECU/Km)', size: 64 }];
      drawPieces(ctx, unitPieces, 165, cy, -Math.PI / 2, 'center');

      // error annotation
      const errPieces = [{ text: 'Error = ' + errorValues[k] + ' mTECU/Km', size: 53 }];
      if (squaredUnit[k]) errPieces.push({ text: '2', size: 37, dy: -21 });
      drawPieces(ctx, errPieces, 1846, B - (squaredUnit[k] ? 57 : 86), 0, 'left');
    });

    // panel frames
    const top = chart.scales[ids[0]].top;
    const bottom = chart.scales[ids[ids.length - 1]].bottom;
    ctx.lineWidth = 7;
    ctx.strokeRect(L, top, R - L, bottom - top);
    ids.slice(0, -1).forEach(id => {
      const b = chart.scales[id].bottom;
      seg(ctx, L, b, R, b);
    });

    // title and x label
    ctx.textAlign = 'center';
    ctx.textBaseline = 'alphabetic';
    ctx.font = '72px ' + FONT;
    ctx.fillText('Polynomial 2nd order fit approach', (L + R) / 2, 86);
    ctx.font = '63px ' + FONT;
    ctx.fillText('Local time (hours)', (L + R) / 2, 3074);
    ctx.restore();
  }
};

const scales = {
  x: {
    type: 'linear',
    position: 'bottom',
    min: 1.305,
    max: 11.6,
    grid: { display: false, drawTicks: false },
    border: { display: false },
    afterBuildTicks: s => { s.ticks = xTickHours.map(v => ({ value: v })); },
    afterFit: s => { s.height = 233; },
    ticks: {
      padding: 30,
      color: '#000',
      font: { family: FONT, size: 63 },
      maxRotation: 0,
      callback: v => String(v).padStart(2, '0')
    }
  }
};
ids.forEach((id, k) => {
  scales[id] = {
    type: 'linear',
    position: 'left',
    stack: 'panels',
    stackWeight: 1,
    weight: ids.length - k,
    min: yLimits[k][0],
    max: yLimits[k][1],
    grid: { display: false, drawTicks: false },
    border: { display: false },
    afterBuildTicks: s => { s.ticks = yMajorTicks[k].map(v => ({ value: v })); },
    afterFit: s => { s.width = 360; },
    ticks: {
      padding: 20,
      color: '#000',
      font: { family: FONT, size: 63 },
      callback: v => fmtNum(v)
    }
  };
});

new Chart(document.getElementById('chart'), {
  type: 'scatter',
  data: {
    datasets: series.map((vals, k) => ({
      label: 'p' + k,
      yAxisID: ids[k],
      data: times.map((t, i) => ({ x: t, y: vals[i] })),
      pointRadius: 3.2,
      pointBorderWidth: 0,
      pointBackgroundColor: '#111',
      showLine: false
    }))
  },
  options: {
    responsive: false,
    animation: false,
    devicePixelRatio: 1,
    events: [],
    layout: { padding: { top: 111, right: 79, bottom: 0, left: 0 } },
    plugins: { legend: { display: false }, tooltip: { enabled: false } },
    scales: scales
  },
  plugins: [framePlugin]
});
</script>
</body>
</html>
